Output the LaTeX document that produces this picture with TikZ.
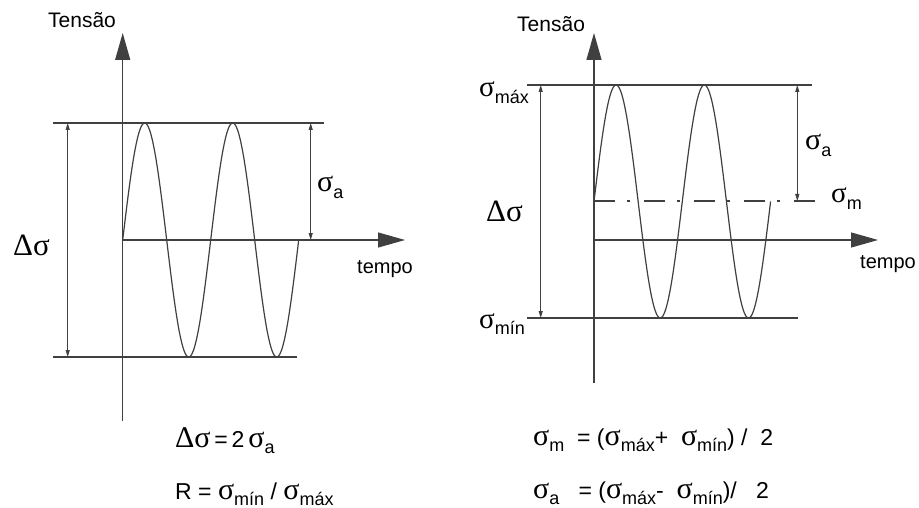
\documentclass[tikz,border=0pt]{standalone}
\usepackage{fontspec}
\setmainfont{Liberation Sans}
\newfontfamily\grk{Liberation Serif}
\usetikzlibrary{arrows.meta}
\newcommand\fs[1]{\fontsize{#1}{#1}\selectfont}
\newcommand\SG[3]{{\fs{#1}\grk σ}{\fs{#2}\raisebox{-0.38em}{#3}}}
\begin{document}
\begin{tikzpicture}[x=1pt,y=-1pt,
  ln/.style={line width=1.2pt, draw=black!75},
  axis/.style={ln, -{Triangle[length=27pt,width=15pt]}},
  dim/.style={line width=1pt, draw=black!75, {Triangle[length=7pt,width=4pt]}-{Triangle[length=7pt,width=4pt]}},
  wave/.style={line width=1.2pt, draw=black!75},
  dashdot/.style={line width=1.1pt, draw=black!75, dash pattern=on 21pt off 12pt on 3pt off 14pt},
  lbl/.style={inner sep=0pt, anchor=base west},
]
\fill[white] (0,0) rectangle (919,508);
\useasboundingbox (0,0) rectangle (919,508);
% ---------- left diagram ----------
\coordinate (Lo)  at (122.7,240);
\coordinate (Lyb) at (122.7,421);
\coordinate (Lyt) at (122.7,33);
\coordinate (Lxt) at (405,240);
\coordinate (Ltl) at (53,123);
\coordinate (Ltr) at (324,123);
\coordinate (Lbl) at (53,357);
\coordinate (Lbr) at (297,357);
\coordinate (Ld1) at (67.7,123);
\coordinate (Ld2) at (67.7,357);
\coordinate (La1) at (310.7,123);
\coordinate (La2) at (310.7,240);
\draw[ln] (Ltl) -- (Ltr);
\draw[ln] (Lbl) -- (Lbr);
\draw[axis] (Lyb) -- (Lyt);
\draw[axis] (Lo) -- (Lxt);
\draw[dim] (Ld1) -- (Ld2);
\draw[dim] (La1) -- (La2);
\draw[wave, domain=0:720, samples=241, smooth, variable=\t]
  plot ({122.7+\t/360*88}, {240-117*sin(\t)});
\node[lbl] (Lten) at (48,28) {\fs{21}Tensão};
\node[lbl] (Ltem) at (357,273) {\fs{20}tempo};
\node[lbl] (Lds) at (13,255) {\fs{31}\grk Δσ};
\node[lbl] (Lsa) at (317,192) {\SG{30}{18}{a}};
% ---------- right diagram ----------
\coordinate (Ro)  at (594,240);
\coordinate (Ryb) at (594,383);
\coordinate (Ryt) at (594,33);
\coordinate (Rxt) at (878,240);
\coordinate (Rtl) at (527,85);
\coordinate (Rtr) at (812,85);
\coordinate (Rbl) at (527,318);
\coordinate (Rbr) at (798,318);
\coordinate (Rml) at (594,201);
\coordinate (Rmr) at (816,201);
\coordinate (Rd1) at (540.7,85);
\coordinate (Rd2) at (540.7,318);
\coordinate (Ra1) at (797.3,85);
\coordinate (Ra2) at (797.3,201);
\draw[ln] (Rtl) -- (Rtr);
\draw[ln] (Rbl) -- (Rbr);
\draw[dashdot] (Rml) -- (Rmr);
\draw[axis] (Ryb) -- (Ryt);
\draw[axis] (Ro) -- (Rxt);
\draw[dim] (Rd1) -- (Rd2);
\draw[dim] (Ra1) -- (Ra2);
\draw[wave, domain=0:720, samples=241, smooth, variable=\t]
  plot ({594+\t/360*88.3}, {201.5-116.5*sin(\t)});
\node[lbl] (Rten) at (517,32) {\fs{21}Tensão};
\node[lbl] (Rtem) at (860,268) {\fs{20}tempo};
\node[lbl] (Rmax) at (479,97) {\SG{29}{18}{máx}};
\node[lbl] (Rmin) at (479,328) {\SG{29}{18}{mín}};
\node[lbl] (Rds) at (486,222) {\fs{31}\grk Δσ};
\node[lbl] (Rsa) at (805,150) {\SG{30}{18}{a}};
\node[lbl] (Rsm) at (831,203) {\SG{29}{18}{m}};
% ---------- formulas ----------
\node[lbl] (F1) at (175,447) {{\fs{30}\grk Δσ}{\fs{23}\,=\,2\,}\SG{30}{18}{a}};
\node[lbl] (F2) at (175,499) {{\fs{23}R = }\SG{30}{18}{mín}{\fs{23} / }\SG{30}{18}{máx}};
\node[lbl] (F3) at (533,445) {\SG{30}{18}{m}{\fs{23}\ \ = (}\SG{30}{18}{máx}{\fs{23}+\ \ }\SG{30}{18}{mín}{\fs{23}) /\ \ 2}};
\node[lbl] (F4) at (533,498) {\SG{30}{18}{a}{\fs{23}\ \ \ = (}\SG{30}{18}{máx}{\fs{23}-\ \ }\SG{30}{18}{mín}{\fs{23})/\ \ \ 2}};
\end{tikzpicture}
\end{document}
